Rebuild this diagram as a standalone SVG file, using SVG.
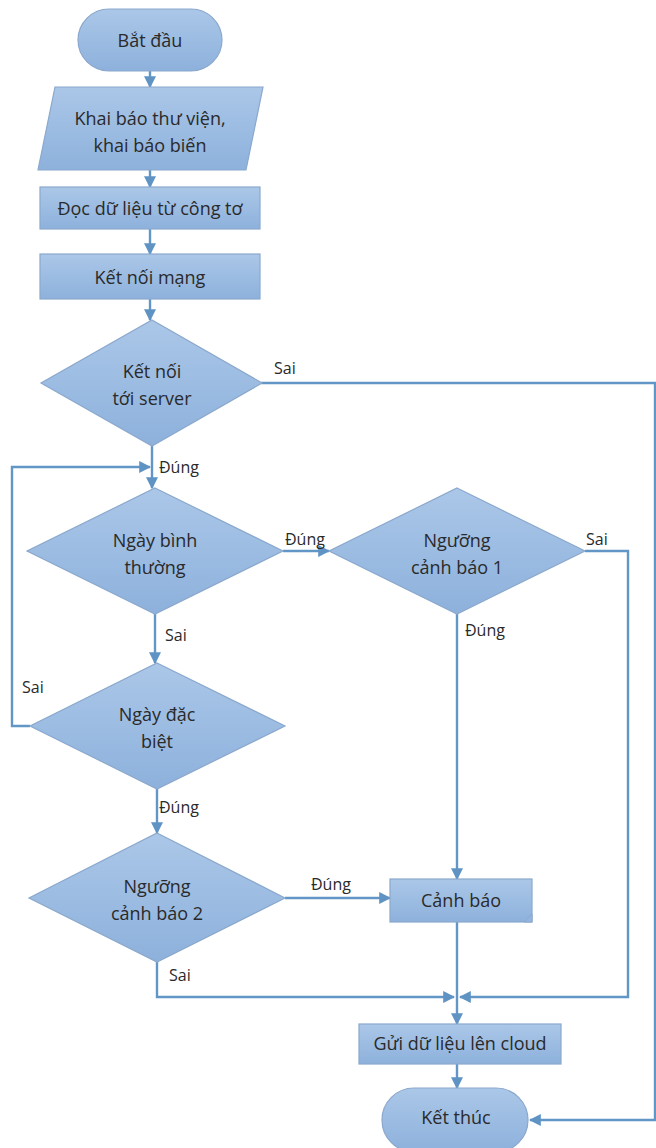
<svg xmlns="http://www.w3.org/2000/svg" width="656" height="1148" viewBox="0 0 656 1148">
<defs>
<linearGradient id="g" x1="0" y1="0" x2="0" y2="1">
<stop offset="0" stop-color="#abc7e8"/>
<stop offset="1" stop-color="#8db1dc"/>
</linearGradient>
<marker id="a" viewBox="0 0 10 10" refX="9" refY="5" markerWidth="5" markerHeight="5" orient="auto" markerUnits="strokeWidth">
<path d="M0,0 L10,5 L0,10 z" fill="#5f93c4"/>
</marker>
<style>
.n{fill:url(#g);stroke:#8aa8cc;stroke-width:1.2}
.d{fill:#94b6de;stroke:#8aa8cc;stroke-width:1}
.t{font-family:"Open Sans","Noto Sans","Liberation Sans",sans-serif;font-size:18px;fill:#2a2a2a;text-anchor:middle}
.l{font-family:"Open Sans","Noto Sans","Liberation Sans",sans-serif;font-size:16px;fill:#2a2a2a}
.ca{fill:none;stroke:#6296c6;stroke-width:2.4;marker-end:url(#a)}
</style>
</defs>
<rect width="656" height="1148" fill="#ffffff"/>

<g id="connectors">
<path class="ca" d="M150,71 V87"/>
<path class="ca" d="M150,170 V187"/>
<path class="ca" d="M150,229 V254"/>
<path class="ca" d="M150,299 V320"/>
<path class="ca" d="M261,383 H655 V1120 H530"/>
<path class="ca" d="M152,446 V488"/>
<path class="ca" d="M30,726 H12 V467 H150"/>
<path class="ca" d="M283,551 H329"/>
<path class="ca" d="M585,551 H628 V997 H460"/>
<path class="ca" d="M457,614 V879"/>
<path class="ca" d="M155,614 V663"/>
<path class="ca" d="M157,789 V833"/>
<path class="ca" d="M285,898 H390"/>
<path class="ca" d="M157,962 V997 H454"/>
<path class="ca" d="M457,922 V1024"/>
<path class="ca" d="M457,1064 V1088"/>
</g>

<g id="start">
<rect class="n" x="78" y="9" width="144" height="62" rx="31"/>
<text class="t" x="150" y="47">Bắt đầu</text>
</g>
<g id="declare">
<polygon class="n" points="55,87 263,87 246,170 38,170"/>
<text class="t" x="150" y="125">Khai báo thư viện,</text>
<text class="t" x="150" y="152">khai báo biến</text>
</g>
<g id="read">
<rect class="n" x="40" y="187" width="220" height="42"/>
<text class="t" x="150" y="215">Đọc dữ liệu từ công tơ</text>
</g>
<g id="network">
<rect class="n" x="40" y="254" width="220" height="45"/>
<text class="t" x="150" y="284">Kết nối mạng</text>
</g>
<g id="server">
<polygon class="n" points="152,320 262,383 152,446 41,383"/>
<text class="t" x="152" y="378">Kết nối</text>
<text class="t" x="152" y="405">tới server</text>
</g>
<g id="normal">
<polygon class="n" points="155,488 283,551 155,614 27,551"/>
<text class="t" x="155" y="547">Ngày bình</text>
<text class="t" x="155" y="574">thường</text>
</g>
<g id="thr1">
<polygon class="n" points="457,488 585,551 457,614 329,551"/>
<text class="t" x="457" y="547">Ngưỡng</text>
<text class="t" x="457" y="574">cảnh báo 1</text>
</g>
<g id="special">
<polygon class="n" points="157,663 285,726 157,789 30,726"/>
<text class="t" x="157" y="721">Ngày đặc</text>
<text class="t" x="157" y="748">biệt</text>
</g>
<g id="thr2">
<polygon class="n" points="157,833 285,898 157,962 29,898"/>
<text class="t" x="157" y="893">Ngưỡng</text>
<text class="t" x="157" y="920">cảnh báo 2</text>
</g>
<g id="alert">
<rect class="n" x="390" y="879" width="142" height="43"/>
<polygon class="d" points="532,914 532,922 524,922"/>
<text class="t" x="461" y="907">Cảnh báo</text>
</g>
<g id="send">
<rect class="n" x="359" y="1024" width="202" height="40"/>
<text class="t" x="460" y="1050">Gửi dữ liệu lên cloud</text>
</g>
<g id="end">
<rect class="n" x="382" y="1088" width="146" height="64" rx="32"/>
<text class="t" x="456" y="1124">Kết thúc</text>
</g>

<g id="labels">
<text class="l" x="274" y="374">Sai</text>
<text class="l" x="159" y="473">Đúng</text>
<text class="l" x="285" y="545">Đúng</text>
<text class="l" x="586" y="545">Sai</text>
<text class="l" x="465" y="636">Đúng</text>
<text class="l" x="165" y="641">Sai</text>
<text class="l" x="22" y="693">Sai</text>
<text class="l" x="159" y="813">Đúng</text>
<text class="l" x="311" y="890">Đúng</text>
<text class="l" x="169" y="981">Sai</text>
</g>
</svg>
